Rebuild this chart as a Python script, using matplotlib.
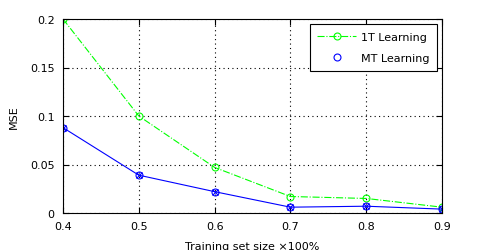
import matplotlib
matplotlib.use("Agg")
import matplotlib.pyplot as plt
from matplotlib.lines import Line2D

# ── Données ────────────────────────────────────────────────────────────────────
train_size = [0.4, 0.5, 0.6, 0.7, 0.8, 0.9]
mse_1t = [0.200, 0.100, 0.047, 0.017, 0.015, 0.006]
mse_mt = [0.088, 0.039, 0.022, 0.006, 0.007, 0.004]
x_ticks = [0.4, 0.5, 0.6, 0.7, 0.8, 0.9]
y_ticks = [0, 0.05, 0.1, 0.15, 0.2]

plt.rcParams['font.family'] = ['DejaVu Sans']
plt.rcParams['font.size'] = 8

fig = plt.figure(figsize=(4.88, 2.51), dpi=100)
ax = fig.add_axes([63 / 488, 1 - 214 / 251, (442 - 63) / 488, (214 - 20) / 251])

ax.plot(train_size, mse_1t, color='#00ff00', linestyle='-.', linewidth=0.8,
        marker='o', markersize=5, markerfacecolor='none', markeredgewidth=0.8)
ax.plot(train_size, mse_mt, color='#0000ff', linestyle='-', linewidth=0.8,
        marker='o', markersize=5, markerfacecolor='none', markeredgewidth=0.8)
ax.plot(train_size, mse_mt, color='#0000ff', linestyle='none',
        marker='x', markersize=4, markeredgewidth=0.8)

ax.set_xlim(0.4, 0.9)
ax.set_ylim(0, 0.2)
ax.set_xticks(x_ticks)
ax.set_yticks(y_ticks)
ax.set_xticklabels([f"{v:g}" for v in x_ticks])
ax.set_yticklabels([f"{v:g}" for v in y_ticks])
ax.tick_params(direction='in', length=4, width=0.8, top=True, right=True, pad=6)
ax.grid(True, color='black', linestyle=(0, (1, 3)), linewidth=0.8)
for s in ax.spines.values():
    s.set_linewidth(0.8)

ax.set_xlabel("Training set size ×100%", labelpad=7)
ax.set_ylabel("MSE", labelpad=8)

handles = [
    Line2D([], [], color='#00ff00', linestyle='-.', linewidth=0.8, marker='o',
           markersize=5, markerfacecolor='none', markeredgewidth=0.8),
    Line2D([], [], color='#0000ff', linestyle='none', marker='o',
           markersize=5, markerfacecolor='none', markeredgewidth=0.8),
]
leg = ax.legend(handles, ["1T Learning", "MT Learning"], loc='upper right',
                fancybox=False, edgecolor='black', framealpha=1,
                borderaxespad=0.45, handlelength=3.5, handletextpad=0.4,
                labelspacing=1.0, borderpad=0.7, fontsize=8)
leg.get_frame().set_linewidth(0.8)

fig.savefig("out.png", dpi=100)
